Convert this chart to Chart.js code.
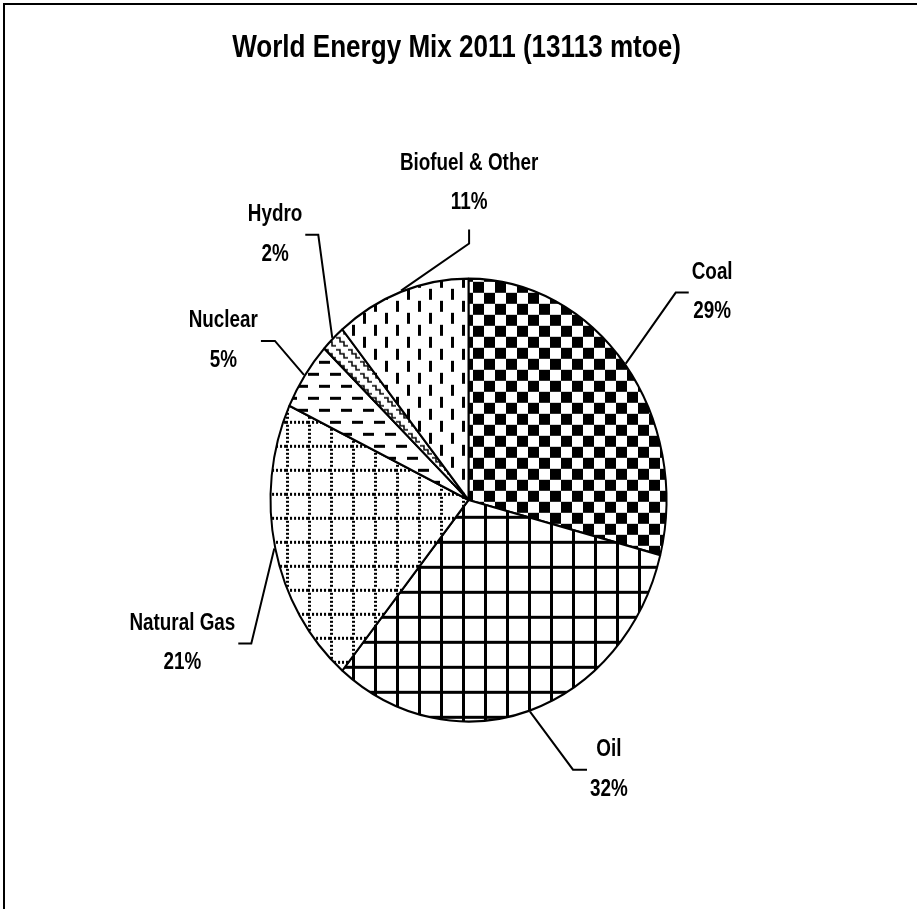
<!DOCTYPE html>
<html>
<head>
<meta charset="utf-8">
<script src="https://cdn.jsdelivr.net/npm/chart.js@4.4.1/dist/chart.umd.min.js"></script>
<style>
  html, body { margin: 0; padding: 0; background: #fff; }
  #frame { position: absolute; left: 3px; top: 3px; right: 0; bottom: 0; border-left: 2px solid #000; border-top: 2px solid #000; }
  #chart { position: absolute; left: 0; top: 0; }
</style>
</head>
<body>
<div id="frame"></div>
<canvas id="chart" width="917" height="909"></canvas>
<script>
// Chart data
const chartTitle = 'World Energy Mix 2011 (13113 mtoe)';
const categories = ['Coal', 'Oil', 'Natural Gas', 'Nuclear', 'Hydro', 'Biofuel & Other'];
const shares = [29, 32, 21, 5, 2, 11];

// Callout layout (bend of the leader line from the slice edge, then a short tail)
const leaderBend = [[50, -71], [43, 58], [-23, 95], [-29, -34], [-14, -103], [68, -47]];
const leaderTail = [[13, 0], [14, 0], [-13, 0], [-14, 0], [-13, 0], [0, -14]];
const labelSide = ['right', 'right', 'left', 'left', 'left', 'top'];

// the pie in the picture is a bit taller than wide
const squash = 222 / 198.5;

// narrow bold font, or a squeezed regular one if the narrow face is missing
const probe = document.createElement('canvas').getContext('2d');
probe.font = 'bold 20px "Liberation Sans Narrow", monospace';
const wNarrow = probe.measureText('Natural Gas').width;
probe.font = 'bold 20px monospace';
const hasNarrow = Math.abs(wNarrow - probe.measureText('Natural Gas').width) > 0.5;
const fontFace = hasNarrow ? '"Liberation Sans Narrow"' : '"Liberation Sans", Arial, sans-serif';
const squeeze = hasNarrow ? 1 : 0.82;

function textWidth(ctx, text, size) {
  ctx.save();
  ctx.font = 'bold ' + size + 'px ' + fontFace;
  const w = ctx.measureText(text).width * squeeze;
  ctx.restore();
  return w;
}

function drawText(ctx, text, x, y, size) {
  ctx.save();
  ctx.translate(x, y);
  ctx.scale(squeeze, 1);
  ctx.font = 'bold ' + size + 'px ' + fontFace;
  ctx.textAlign = 'center';
  ctx.textBaseline = 'middle';
  ctx.fillStyle = '#000';
  ctx.fillText(text, 0, 0);
  ctx.restore();
}

// black & white fill patterns
function makePattern(w, h, draw) {
  const c = document.createElement('canvas');
  c.width = w;
  c.height = h;
  const g = c.getContext('2d');
  g.fillStyle = '#fff';
  g.fillRect(0, 0, w, h);
  g.fillStyle = '#000';
  g.strokeStyle = '#000';
  draw(g, w, h);
  const p = g.createPattern(c, 'repeat');
  p.setTransform(new DOMMatrix().scale(1, 1 / squash));
  return p;
}

const fills = [
  // Coal: checkerboard
  makePattern(22, 22, g => { g.fillRect(0, 0, 11, 11); g.fillRect(11, 11, 11, 11); }),
  // Oil: grid
  makePattern(22, 25, g => { g.fillRect(0, 0, 3, 25); g.fillRect(0, 0, 22, 3); }),
  // Natural Gas: dotted grid
  makePattern(22, 24, g => {
    for (let x = 0; x < 22; x += 4) g.fillRect(x, 0, 2, 3);
    for (let y = 4; y < 24; y += 4) g.fillRect(0, y, 3, 2);
  }),
  // Nuclear: horizontal dashes
  makePattern(22, 24, g => { g.fillRect(0, 0, 11, 3); g.fillRect(11, 12, 11, 3); }),
  // Hydro: small stepped waves
  makePattern(12, 12, g => {
    g.lineWidth = 1.5;
    g.beginPath();
    g.moveTo(0, 1); g.lineTo(4, 1); g.lineTo(4, 5); g.lineTo(8, 5); g.lineTo(8, 9); g.lineTo(12, 9);
    g.stroke();
  }),
  // Biofuel & Other: vertical dashes
  makePattern(22, 24, g => { g.fillRect(0, 0, 3, 11); g.fillRect(11, 12, 3, 11); })
];

// stretch the pie vertically around its centre
const ellipsePlugin = {
  id: 'ellipse',
  beforeDatasetsDraw(chart) {
    const cy = chart.getDatasetMeta(0).data[0].y;
    const ctx = chart.ctx;
    ctx.save();
    ctx.translate(0, cy);
    ctx.scale(1, squash);
    ctx.translate(0, -cy);
  },
  afterDatasetsDraw(chart) {
    chart.ctx.restore();
  }
};

// title and callout labels with leader lines
const calloutPlugin = {
  id: 'callouts',
  afterDraw(chart) {
    const ctx = chart.ctx;
    const arcs = chart.getDatasetMeta(0).data;
    ctx.save();
    ctx.strokeStyle = '#000';
    ctx.lineWidth = 2;
    arcs.forEach((arc, i) => {
      const p = arc.getProps(['x', 'y', 'startAngle', 'endAngle', 'outerRadius'], true);
      const mid = (p.startAngle + p.endAngle) / 2;
      const ax = p.x + Math.cos(mid) * (p.outerRadius + 1);
      const ay = p.y + Math.sin(mid) * (p.outerRadius + 1) * squash;
      const bx = ax + leaderBend[i][0];
      const by = ay + leaderBend[i][1];
      const ex = bx + leaderTail[i][0];
      const ey = by + leaderTail[i][1];
      ctx.beginPath();
      ctx.moveTo(ax, ay);
      ctx.lineTo(bx, by);
      ctx.lineTo(ex, ey);
      ctx.stroke();

      const lines = [categories[i], shares[i] + '%'];
      const w = Math.max(...lines.map(t => textWidth(ctx, t, 23)));
      let cx = ex, y1 = ey - 20, y2 = ey + 19.5;
      if (labelSide[i] === 'right') cx = ex + 3 + w / 2;
      if (labelSide[i] === 'left') cx = ex - 3 - w / 2;
      if (labelSide[i] === 'top') { y1 = ey - 66; y2 = ey - 27; }
      drawText(ctx, lines[0], cx, y1, 23);
      drawText(ctx, lines[1], cx, y2, 23);
    });
    drawText(ctx, chartTitle, 456.5, 48.5, 31.8);
    ctx.restore();
  }
};

new Chart(document.getElementById('chart').getContext('2d'), {
  type: 'pie',
  data: {
    labels: categories,
    datasets: [{
      data: shares,
      backgroundColor: fills,
      borderColor: '#000',
      borderWidth: 2
    }]
  },
  options: {
    responsive: false,
    animation: false,
    devicePixelRatio: 1,
    events: [],
    radius: 198,
    layout: { padding: { left: 20, right: 0, top: 91, bottom: 0 } },
    plugins: {
      legend: { display: false },
      tooltip: { enabled: false },
      title: { display: false }
    }
  },
  plugins: [ellipsePlugin, calloutPlugin]
});
</script>
</body>
</html>
